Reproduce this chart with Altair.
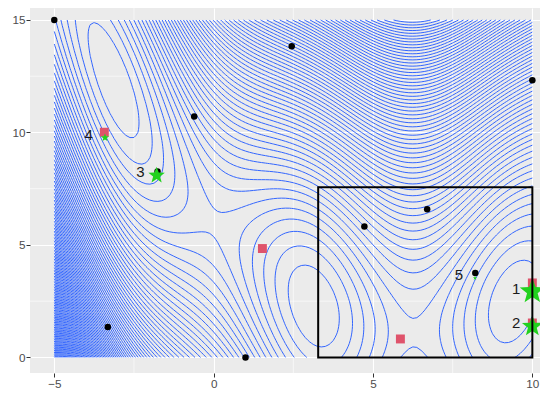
import numpy as np
import pandas as pd
import altair as alt

alt.data_transformers.disable_max_rows()

# ---- surface: Branin function on the plotted square ----
BR_A = 1.0
BR_B = 5.1 / (4 * np.pi ** 2)
BR_C = 5 / np.pi
BR_R = 6.0
BR_S = 10.0
BR_T = 1 / (8 * np.pi)
grid_x_range = [-5.0, 10.0]
grid_y_range = [0.0, 15.0]
grid_n = 121
level_max = 330.0
level_bins = 100

# ---- points ----
black_x = [-5.0, 2.45, 10.0, -0.61, -1.76, 4.73, 6.70, 8.21, -3.32, 1.0]
black_y = [15.0, 13.83, 12.32, 10.71, 8.26, 5.82, 6.59, 3.75, 1.35, 0.0]

red_x = [-3.43, 1.53, 5.86, 10.0, 10.0]
red_y = [10.01, 4.84, 0.82, 3.31, 1.53]

star_id = [1, 2, 3, 4, 5]
star_x = [10.0, 10.0, -1.79, -3.41, 8.20]
star_y = [2.93, 1.38, 8.09, 9.77, 3.53]

box_x = [3.28, 10.0]
box_y = [0.0, 7.57]

x_ticks = [-5, 0, 5, 10]
y_ticks = [0, 5, 10, 15]
x_minor = [-2.5, 2.5, 7.5]
y_minor = [2.5, 7.5, 12.5]


def branin(x, y):
    return BR_A * (y - BR_B * x ** 2 + BR_C * x - BR_R) ** 2 + BR_S * (1 - BR_T) * np.cos(x) + BR_S


gx = np.linspace(grid_x_range[0], grid_x_range[1], grid_n)
gy = np.linspace(grid_y_range[0], grid_y_range[1], grid_n)
GX, GY = np.meshgrid(gx, gy, indexing="ij")
Z = branin(GX, GY)
levels = np.linspace(0, level_max, level_bins)[1:]


def edge_point(key, lev):
    kind, i, j = key
    if kind == "h":
        z0, z1 = Z[i, j], Z[i + 1, j]
        t = (lev - z0) / (z1 - z0)
        return gx[i] + t * (gx[i + 1] - gx[i]), gy[j]
    z0, z1 = Z[i, j], Z[i, j + 1]
    t = (lev - z0) / (z1 - z0)
    return gx[i], gy[j] + t * (gy[j + 1] - gy[j])


rows = []
pid = 0
for lev in levels:
    above = Z > lev
    s = above[:-1, :-1].astype(int) + above[1:, :-1] + above[1:, 1:] + above[:-1, 1:]
    ci, cj = np.nonzero((s > 0) & (s < 4))
    adj = {}

    def link(a, b):
        adj.setdefault(a, []).append(b)
        adj.setdefault(b, []).append(a)

    for i, j in zip(ci, cj):
        b0 = above[i, j]
        b1 = above[i + 1, j]
        b2 = above[i + 1, j + 1]
        b3 = above[i, j + 1]
        eb = ("h", i, j)
        er = ("v", i + 1, j)
        et = ("h", i, j + 1)
        el = ("v", i, j)
        crossed = []
        if b0 != b1:
            crossed.append(eb)
        if b1 != b2:
            crossed.append(er)
        if b3 != b2:
            crossed.append(et)
        if b0 != b3:
            crossed.append(el)
        if len(crossed) == 2:
            link(crossed[0], crossed[1])
        elif len(crossed) == 4:
            center = (Z[i, j] + Z[i + 1, j] + Z[i + 1, j + 1] + Z[i, j + 1]) / 4 > lev
            if center == b0:
                link(eb, er)
                link(et, el)
            else:
                link(eb, el)
                link(et, er)
    visited = set()

    def walk(start):
        path = [start]
        visited.add(start)
        cur = start
        while True:
            nxt = [n for n in adj[cur] if n not in visited]
            if not nxt:
                if len(path) > 2 and start in adj[cur]:
                    path.append(start)
                break
            cur = nxt[0]
            visited.add(cur)
            path.append(cur)
        return path

    starts = [k for k, v in adj.items() if len(v) == 1] + list(adj.keys())
    for k in starts:
        if k in visited:
            continue
        path = walk(k)
        for o, key in enumerate(path):
            px, py = edge_point(key, lev)
            rows.append((pid, o, round(float(px), 3), round(float(py), 3)))
        pid += 1

contours = pd.DataFrame(rows, columns=["pid", "o", "x", "y"])
black_df = pd.DataFrame({"x": black_x, "y": black_y})
red_df = pd.DataFrame({"x": red_x, "y": red_y})
star_df = pd.DataFrame({"id": star_id, "x": star_x, "y": star_y})
box_df = pd.DataFrame({"x0": [box_x[0]], "x1": [box_x[1]], "y0": [box_y[0]], "y1": [box_y[1]]})
xminor_df = pd.DataFrame({"v": x_minor})
yminor_df = pd.DataFrame({"v": y_minor})

xs = alt.Scale(domain=[-5.762, 10.24], nice=False, zero=False)
ys = alt.Scale(domain=[-0.693, 15.533], nice=False, zero=False)
xa = alt.Axis(values=x_ticks, title=None, grid=True)
ya = alt.Axis(values=y_ticks, title=None, grid=True)

STAR = ("M0,-1L0.247,-0.34L0.951,-0.309L0.4,0.13L0.588,0.809L0,0.42"
        "L-0.588,0.809L-0.4,0.13L-0.951,-0.309L-0.247,-0.34Z")

minor_x = alt.Chart(xminor_df).mark_rule(color="white", strokeWidth=0.6).encode(
    x=alt.X("v:Q", scale=xs, axis=xa))
minor_y = alt.Chart(yminor_df).mark_rule(color="white", strokeWidth=0.6).encode(
    y=alt.Y("v:Q", scale=ys, axis=ya))

lines = alt.Chart(contours).mark_line(color="#3366FF", strokeWidth=1.0).encode(
    x=alt.X("x:Q", scale=xs, axis=xa),
    y=alt.Y("y:Q", scale=ys, axis=ya),
    detail="pid:N",
    order="o:Q",
)

blacks = alt.Chart(black_df).mark_circle(color="black", size=42, opacity=1).encode(
    x=alt.X("x:Q", scale=xs, axis=xa), y=alt.Y("y:Q", scale=ys, axis=ya))

reds = alt.Chart(red_df).mark_square(color="#DF536B", size=80, opacity=1).encode(
    x=alt.X("x:Q", scale=xs, axis=xa), y=alt.Y("y:Q", scale=ys, axis=ya))

stars = alt.Chart(star_df).mark_point(shape=STAR, filled=True, color="#22D11E", opacity=1).encode(
    x=alt.X("x:Q", scale=xs, axis=xa),
    y=alt.Y("y:Q", scale=ys, axis=ya),
    size=alt.Size("id:Q", scale=alt.Scale(type="threshold", domain=[1.5, 2.5, 3.5, 4.5],
                                          range=[700, 480, 300, 72, 18]), legend=None),
)

labels = alt.Chart(star_df).mark_text(align="right", baseline="middle", dx=-12, dy=-3,
                                      fontSize=15, font="Liberation Sans", color="#1a1a1a").encode(
    x=alt.X("x:Q", scale=xs, axis=xa), y=alt.Y("y:Q", scale=ys, axis=ya), text="id:N")

box = alt.Chart(box_df).mark_rect(fill=None, stroke="black", strokeWidth=2).encode(
    x=alt.X("x0:Q", scale=xs, axis=xa), x2="x1:Q",
    y=alt.Y("y0:Q", scale=ys, axis=ya), y2="y1:Q")

chart = alt.layer(minor_x, minor_y, lines, blacks, reds, stars, labels, box).properties(
    width=510, height=365,
    autosize=alt.AutoSizeParams(type="none"),
    padding={"left": 22, "top": 0, "right": 0, "bottom": 16},
    background="white",
).configure_view(fill="#EBEBEB", stroke=None).configure_axis(
    domain=False,
    gridColor="white",
    gridWidth=1.1,
    tickColor="#333333",
    tickSize=4,
    tickWidth=1,
    labelColor="#4D4D4D",
    labelFontSize=11.7,
    labelFont="Liberation Sans",
    labelPadding=1,
)

chart.save("out.html", embed_options={"renderer": "svg", "actions": False})
